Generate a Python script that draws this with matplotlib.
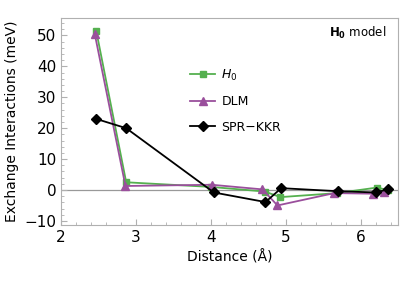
import matplotlib
matplotlib.use('Agg')
import matplotlib.pyplot as plt
from matplotlib.ticker import MultipleLocator

# ── Data ──────────────────────────────────────────────────────────────────────
h0_x = [2.47, 2.87, 4.00, 4.72, 4.93, 5.69, 6.22, 6.36]
h0_y = [51.5, 2.5, 1.0, -0.5, -2.3, -1.0, 0.8, 0.0]

dlm_x = [2.45, 2.86, 4.01, 4.69, 4.89, 5.65, 6.17, 6.31]
dlm_y = [50.5, 1.3, 1.7, 0.2, -5.0, -1.0, -1.2, -0.5]

kkr_x = [2.47, 2.87, 4.04, 4.73, 4.94, 5.70, 6.21, 6.37]
kkr_y = [23.0, 20.0, -0.8, -3.9, 0.6, -0.4, -0.8, 0.3]

GREEN  = '#55b04f'
PURPLE = '#9a4f9c'
FRAME  = '#b0b0b0'

plt.rcParams.update({
    'font.family': 'DejaVu Sans',
    'font.size': 10,
})

fig = plt.figure(figsize=(4.07, 2.88), dpi=100)
ax = fig.add_axes([0.150, 0.219, 0.828, 0.719])

ax.axhline(0, color='#999999', lw=0.9, zorder=1)

ax.plot(h0_x, h0_y, color=GREEN, marker='s', ms=5, lw=1.3, label=r'$H_0$', zorder=3)
ax.plot(dlm_x, dlm_y, color=PURPLE, marker='^', ms=6, lw=1.3, label='DLM', zorder=3)
ax.plot(kkr_x, kkr_y, color='black', marker='D', ms=5, lw=1.3, label='SPR\u2212KKR', zorder=4)

ax.set_xlim(2, 6.5)
ax.set_ylim(-11.3, 55.7)
ax.xaxis.set_major_locator(MultipleLocator(1))
ax.xaxis.set_minor_locator(MultipleLocator(0.2))
ax.yaxis.set_major_locator(MultipleLocator(10))
ax.yaxis.set_minor_locator(MultipleLocator(2))
ax.tick_params(which='both', direction='in', color=FRAME, labelsize=11,
               top=False, right=False)
ax.tick_params(which='major', length=4)
ax.tick_params(which='minor', length=2)
for s in ax.spines.values():
    s.set_color(FRAME)
    s.set_linewidth(0.8)

ax.set_xlabel('Distance (Å)', fontsize=10)
ax.set_ylabel('Exchange Interactions (meV)', fontsize=10)

ax.legend(loc='upper left', bbox_to_anchor=(0.35, 0.815), frameon=False,
          fontsize=9, handlelength=2.0, handletextpad=0.5, labelspacing=1.0)

ax.text(0.965, 0.965, r'$\mathbf{H_0}$ model', transform=ax.transAxes,
        ha='right', va='top', fontsize=8.5)

plt.savefig('out.png', dpi=100)
